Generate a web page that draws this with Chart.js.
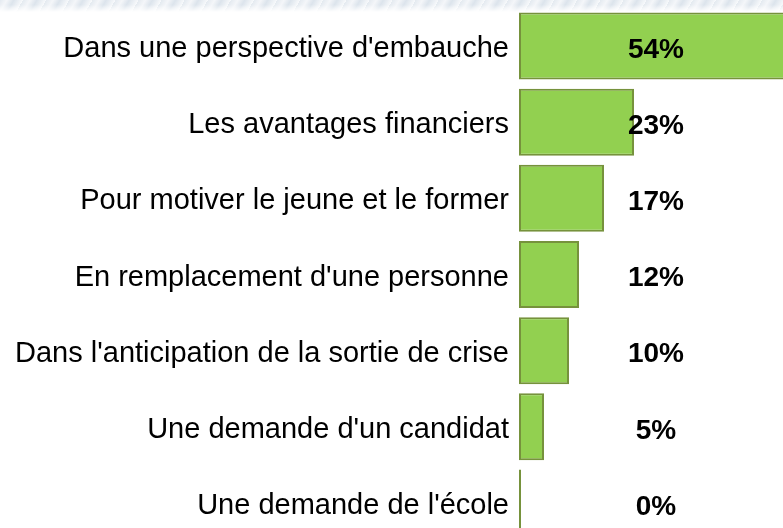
<!DOCTYPE html>
<html>
<head>
<meta charset="utf-8">
<script src="https://cdn.jsdelivr.net/npm/chart.js@4.2.1/dist/chart.umd.min.js"></script>
<style>
    html, body { margin: 0; padding: 0; overflow: hidden; background: #fff; }
    #banner {
        position: absolute; left: 0; top: 0; width: 783px; height: 12px;
        background: repeating-linear-gradient(120deg, #e4eaf0 0px, #f4f6f9 6px, #dce4ec 12px, #f7f9fb 20px);
        -webkit-mask-image: linear-gradient(to bottom, #000 40%, transparent);
        mask-image: linear-gradient(to bottom, #000 40%, transparent);
    }
    #chartContainer { position: absolute; left: 0; top: 0; width: 783px; height: 541px; }
</style>
</head>
<body>
<div id="banner"></div>
<div id="chartContainer"><canvas id="bar"></canvas></div>
<script>
/*
        Horizontal bar chart: reasons for hiring, in percent.
*/

const categories = [
    "Dans une perspective d'embauche",
    "Les avantages financiers",
    "Pour motiver le jeune et le former",
    "En remplacement d'une personne",
    "Dans l'anticipation de la sortie de crise",
    "Une demande d'un candidat",
    "Une demande de l'école"
];
const percentages = [54, 23, 17, 12, 10, 5, 0];

const fontFamily = "'Liberation Sans', Arial, sans-serif";

// Value labels sit in one column, centred on the longest bar
const valueLabels = {
    id: "valueLabels",
    afterDatasetsDraw(chart) {
        const ctx = chart.ctx;
        const xScale = chart.scales.x;
        const meta = chart.getDatasetMeta(0);
        const column = xScale.getPixelForValue(Math.max(...percentages) / 2);

        ctx.save();
        ctx.font = "bold 28px " + fontFamily;
        ctx.fillStyle = "#000";
        ctx.textAlign = "center";
        ctx.textBaseline = "middle";
        meta.data.forEach((bar, i) => {
            ctx.fillText(percentages[i] + "%", column + 2, bar.y + 4);
        });
        ctx.restore();
    }
};

let barchart = document.getElementById("bar").getContext("2d");

new Chart(barchart, {
    type: "bar",
    plugins: [valueLabels],
    data: {
        labels: categories,
        datasets: [
            {
                data: percentages,
                backgroundColor: "#92D050",
                borderColor: "#76923C",
                borderWidth: 2,
                borderSkipped: false,
                minBarLength: 2,
                categoryPercentage: 1,
                barPercentage: 0.88,
            },
        ],
    },
    options: {
        indexAxis: "y",
        responsive: true,
        maintainAspectRatio: false,
        animation: false,
        layout: { padding: { top: 8, right: 0, bottom: 0, left: 0 } },
        plugins: {
            legend: { display: false },
            tooltip: { enabled: false },
        },
        scales: {
            x: {
                display: false,
                min: 0,
                max: 52.8,
            },
            y: {
                grid: { display: false, drawTicks: false },
                border: { display: false },
                afterFit: (scale) => {
                    scale.width = 519;
                    scale.paddingTop = 0;
                    scale.paddingBottom = 0;
                },
                ticks: {
                    padding: 10,
                    labelOffset: 3,
                    color: "#000",
                    font: { family: fontFamily, size: 29 },
                },
            },
        },
    },
});
</script>
</body>
</html>
